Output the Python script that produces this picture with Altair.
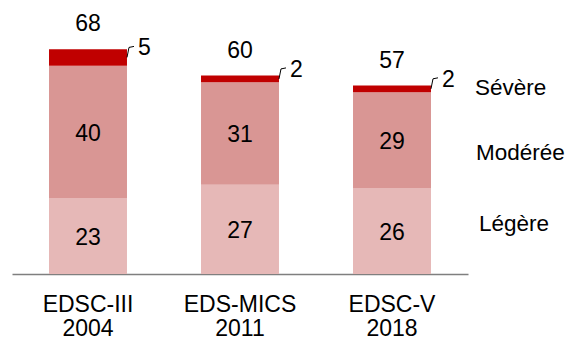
import altair as alt
import pandas as pd

# ---- data ----
categories = ["EDSC-III\n2004", "EDS-MICS\n2011", "EDSC-V\n2018"]
severities = ["Légère", "Modérée", "Sévère"]
legere = [23, 27, 26]
moderee = [40, 31, 29]
severe = [5, 2, 2]

colors = ["#E6B8B7", "#D99694", "#C00000"]

rows = []
for i, c in enumerate(categories):
    for k, (s, vals) in enumerate(zip(severities, [legere, moderee, severe])):
        rows.append({"cat": c, "sev": s, "val": vals[i], "ord": k})
df = pd.DataFrame(rows)

FONT = "Liberation Sans"
FS = 23

x_enc = alt.X(
    "cat:N",
    sort=categories,
    scale=alt.Scale(paddingInner=0.487, paddingOuter=0.2435),
    axis=alt.Axis(
        title=None,
        ticks=False,
        tickSize=0,
        domainColor="#7f7f7f",
        domainWidth=1.5,
        labelAngle=0,
        labelFont=FONT,
        labelFontSize=FS,
        labelColor="#000000",
        labelPadding=19,
        labelLineHeight=24,
        labelExpr="split(datum.label, '\\n')",
        labelBaseline="top",
    ),
)
y_scale = alt.Scale(domain=[0, 75], nice=False, zero=True)

base = alt.Chart(df)

bars = base.mark_bar().encode(
    x=x_enc,
    y=alt.Y("val:Q", stack="zero", scale=y_scale, axis=None),
    color=alt.Color("sev:N", scale=alt.Scale(domain=severities, range=colors), legend=None),
    order=alt.Order("ord:Q", sort="ascending"),
)

stacked = base.transform_stack(
    stack="val", groupby=["cat"], as_=["y0", "y1"], sort=[alt.SortField("ord", order="ascending")]
).transform_calculate(mid="(datum.y0 + datum.y1) / 2")

seg_labels = stacked.transform_filter("datum.ord < 2").mark_text(
    font=FONT, fontSize=FS, color="#000000", baseline="middle", dy=2
).encode(
    x=alt.X("cat:N", sort=categories),
    y=alt.Y("mid:Q", scale=y_scale),
    text="val:Q",
)

totals = base.transform_aggregate(total="sum(val)", groupby=["cat"]).mark_text(
    font=FONT, fontSize=FS, color="#000000", baseline="middle", dy=-25
).encode(
    x=alt.X("cat:N", sort=categories),
    y=alt.Y("total:Q", scale=y_scale),
    text="total:Q",
)

sev = stacked.transform_filter("datum.ord == 2")

leader1 = sev.mark_rule(color="#000000", strokeWidth=1, x2Offset=2, y2Offset=-10).encode(
    x=alt.X("cat:N", sort=categories, bandPosition=1),
    x2=alt.X2("cat", bandPosition=1),
    y=alt.Y("mid:Q", scale=y_scale),
    y2="mid:Q",
)
leader2 = sev.mark_rule(
    color="#000000", strokeWidth=1, xOffset=2, x2Offset=7, yOffset=-10, y2Offset=-11
).encode(
    x=alt.X("cat:N", sort=categories, bandPosition=1),
    x2=alt.X2("cat", bandPosition=1),
    y=alt.Y("mid:Q", scale=y_scale),
    y2="mid:Q",
)
sev_labels = sev.mark_text(
    font=FONT, fontSize=FS, color="#000000", align="left", baseline="middle", dx=11, dy=-9
).encode(
    x=alt.X("cat:N", sort=categories, bandPosition=1),
    y=alt.Y("mid:Q", scale=y_scale),
    text="val:Q",
)

# legend-like labels at the right, anchored on the last bar's segments
legend_dy = {"Sévère": -1, "Modérée": 13, "Légère": -7}
legend_dx = {"Sévère": 0, "Modérée": 1, "Légère": 4}
legend_layers = []
for s in severities:
    legend_layers.append(
        stacked.transform_filter(
            alt.FieldEqualPredicate(field="cat", equal=categories[-1])
        ).transform_filter(
            alt.FieldEqualPredicate(field="sev", equal=s)
        ).mark_text(
            font=FONT, fontSize=22.5, color="#000000", align="left", baseline="middle",
            dy=legend_dy[s], dx=legend_dx[s],
        ).encode(
            x=alt.value(463),
            y=alt.Y("mid:Q", scale=y_scale),
            text="sev:N",
        )
    )

chart = alt.layer(bars, seg_labels, totals, leader1, leader2, sev_labels, *legend_layers).properties(
    width=456,
    height=248,
    autosize=alt.AutoSizeParams(type="none"),
    padding={"left": 4, "top": 18, "right": 97, "bottom": 64},
).configure_view(stroke=None)

chart.save("out.html", embed_options={"renderer": "svg", "actions": False})
